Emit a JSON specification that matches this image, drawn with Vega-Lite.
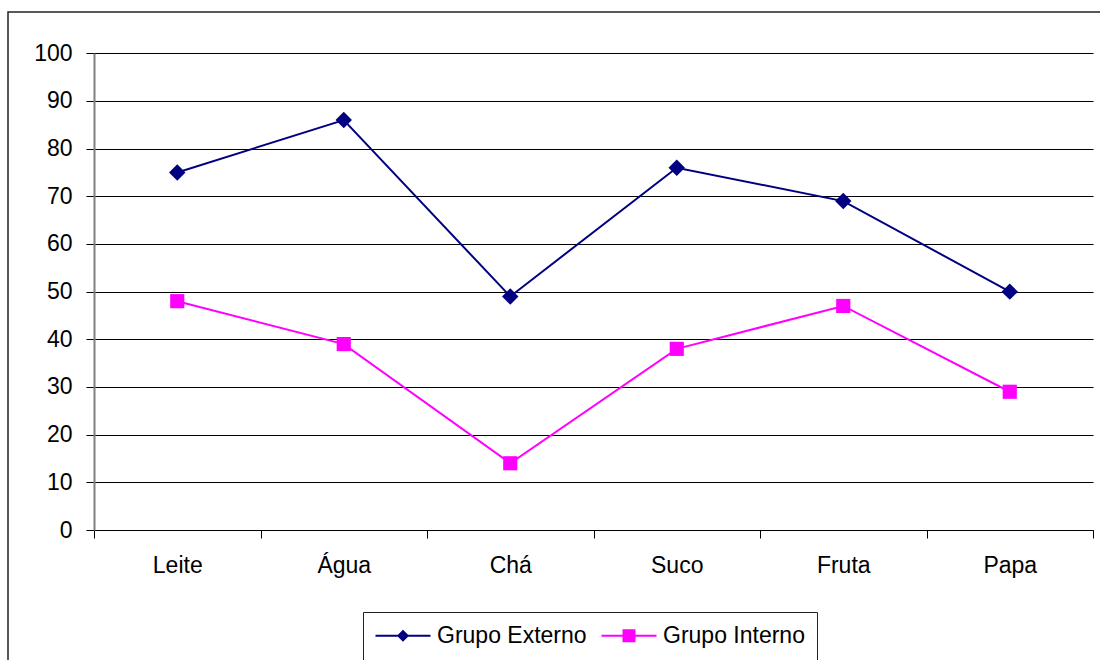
{
  "$schema": "https://vega.github.io/schema/vega-lite/v6.json",
  "width": 1100,
  "height": 660,
  "autosize": {"type": "none"},
  "padding": {"left": 8, "top": 12, "right": 0, "bottom": 0},
  "background": "white",
  "data": {
    "values": [
      {"bebida": "Leite", "grupo": "Grupo Externo", "valor": 75},
      {"bebida": "Água", "grupo": "Grupo Externo", "valor": 86},
      {"bebida": "Chá", "grupo": "Grupo Externo", "valor": 49},
      {"bebida": "Suco", "grupo": "Grupo Externo", "valor": 76},
      {"bebida": "Fruta", "grupo": "Grupo Externo", "valor": 69},
      {"bebida": "Papa", "grupo": "Grupo Externo", "valor": 50},
      {"bebida": "Leite", "grupo": "Grupo Interno", "valor": 48},
      {"bebida": "Água", "grupo": "Grupo Interno", "valor": 39},
      {"bebida": "Chá", "grupo": "Grupo Interno", "valor": 14},
      {"bebida": "Suco", "grupo": "Grupo Interno", "valor": 38},
      {"bebida": "Fruta", "grupo": "Grupo Interno", "valor": 47},
      {"bebida": "Papa", "grupo": "Grupo Interno", "valor": 29}
    ]
  },
  "encoding": {
    "x": {
      "field": "bebida",
      "type": "nominal",
      "sort": null,
      "scale": {"range": [86, 1085], "paddingInner": 0, "paddingOuter": 0},
      "axis": {
        "title": null,
        "orient": "bottom",
        "offset": -142,
        "tickBand": "extent",
        "tickSize": 8,
        "tickColor": "black",
        "domainColor": "black",
        "domainWidth": 1,
        "labelFontSize": 23,
        "labelFont": "Liberation Sans",
        "labelColor": "black",
        "labelPadding": 16,
        "labelAngle": 0,
        "grid": false
      }
    },
    "y": {
      "field": "valor",
      "type": "quantitative",
      "scale": {"domain": [0, 100], "range": [518, 41.3], "nice": false, "zero": true},
      "axis": {
        "title": null,
        "offset": -86,
        "values": [0, 10, 20, 30, 40, 50, 60, 70, 80, 90, 100],
        "grid": true,
        "gridColor": "black",
        "gridWidth": 1,
        "gridOpacity": 1,
        "domainColor": "#808080",
        "domainWidth": 2,
        "tickColor": "black",
        "tickSize": 8,
        "labelFontSize": 23,
        "labelFont": "Liberation Sans",
        "labelColor": "black",
        "labelPadding": 14
      }
    },
    "color": {
      "field": "grupo",
      "type": "nominal",
      "scale": {"domain": ["Grupo Externo", "Grupo Interno"], "range": ["#000080", "#FF00FF"]},
      "legend": {
        "title": null,
        "orient": "none",
        "legendX": 355,
        "legendY": 600,
        "direction": "horizontal",
        "strokeColor": "#222",
        "padding": 12,
        "labelFontSize": 23,
        "labelFont": "Liberation Sans",
        "labelColor": "black",
        "labelOffset": 39,
        "columnPadding": 14,
        "symbolSize": 484,
        "symbolStrokeWidth": 0,
        "symbolOpacity": 1
      }
    }
  },
  "layer": [
    {"mark": {"type": "line", "strokeWidth": 2}},
    {
      "transform": [{"filter": "datum.grupo === 'Grupo Externo'"}],
      "mark": {"type": "point", "filled": true, "opacity": 1, "strokeWidth": 0, "size": 270, "shape": "diamond"}
    },
    {
      "transform": [{"filter": "datum.grupo === 'Grupo Interno'"}],
      "mark": {"type": "point", "filled": true, "opacity": 1, "strokeWidth": 0, "size": 200, "shape": "square"}
    },
    {
      "mark": {"type": "point", "filled": true, "size": 0, "strokeWidth": 0},
      "encoding": {
        "shape": {
          "field": "grupo",
          "type": "nominal",
          "scale": {
            "domain": ["Grupo Externo", "Grupo Interno"],
            "range": [
              "M-1,-0.09H4V0.09H-1Z M1.5,-0.55L2.05,0L1.5,0.55L0.95,0Z",
              "M-1,-0.09H4V0.09H-1Z M0.91,-0.59H2.09V0.59H0.91Z"
            ]
          },
          "legend": {
            "title": null,
            "orient": "none",
            "legendX": 355,
            "legendY": 600,
            "direction": "horizontal",
            "strokeColor": "#222",
            "padding": 12,
            "labelFontSize": 23,
            "labelFont": "Liberation Sans",
            "labelColor": "black",
            "labelOffset": 39,
            "columnPadding": 14,
            "symbolSize": 484,
            "symbolStrokeWidth": 0,
            "symbolOpacity": 1
          }
        }
      }
    }
  ],
  "config": {
    "view": {"stroke": "#222", "strokeWidth": 1.5}
  }
}
